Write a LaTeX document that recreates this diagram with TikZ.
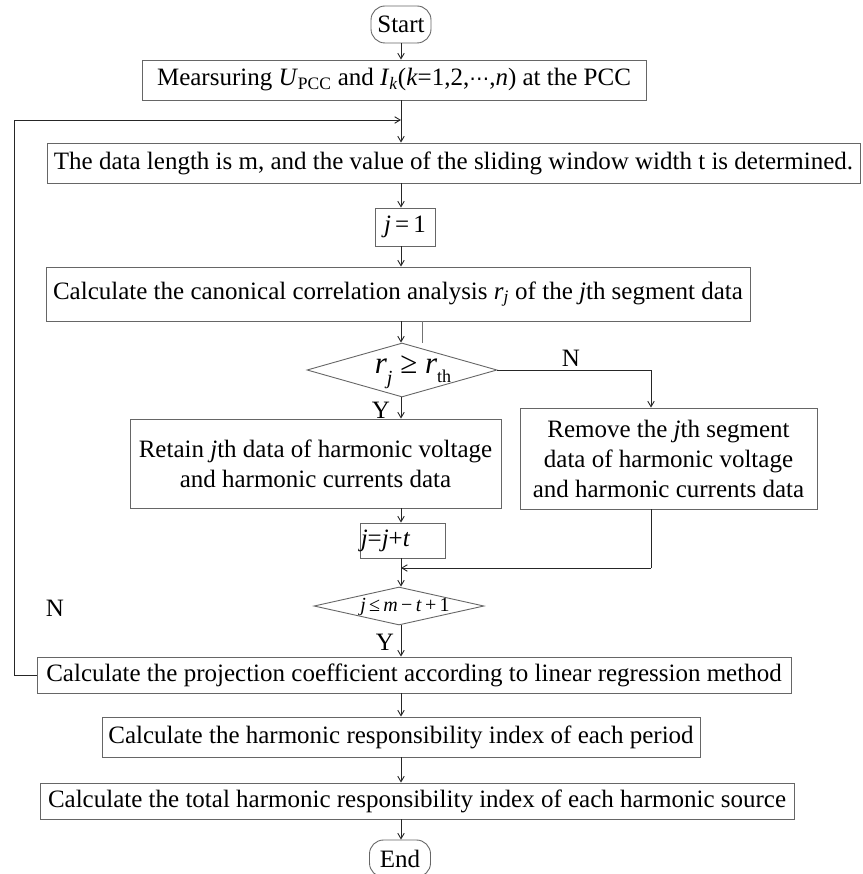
\documentclass[tikz,border=0pt]{standalone}
\usepackage{fontspec}
\setmainfont{Liberation Serif}
\newfontfamily\symfont{DejaVu Sans}
\usetikzlibrary{shapes.geometric,arrows.meta}
\begin{document}
\begin{tikzpicture}[x=1pt,y=-1pt,
  bx/.style={draw=black!60, line width=0.9pt, inner sep=0pt, align=center, font=\fontsize{25}{30}\selectfont},
  term/.style={bx, rounded corners=14pt},
  dia/.style={draw=black!60, line width=0.9pt, diamond, inner sep=0pt},
  arr/.style={draw=black!85, line width=0.9pt, -{Straight Barb[length=5.5pt,width=6.5pt]}},
  ln/.style={draw=black!85, line width=0.9pt},
  lbl/.style={font=\fontsize{25}{30}\selectfont, inner sep=0pt}]
\useasboundingbox (0,0) rectangle (862,874);
\coordinate (ax) at (401,0);
\coordinate (rx) at (651,0);
\coordinate (sx) at (422,0);
\coordinate (fbx) at (14,0);
\coordinate (fb) at (401,120);
\coordinate (mg) at (401,568);

\node[term, minimum width=60, minimum height=37] (start) at (401,24.5) {Start};
\node[bx, minimum width=504, minimum height=40] (b2) at (394,80) {Mearsuring \textit{U}\textsubscript{PCC} and \textit{I}\textsubscript{\textit{k}}(\textit{k}=1,2,{\symfont\fontsize{20}{24}\selectfont ⋯},\textit{n}) at the PCC};
\node[bx, minimum width=813, minimum height=40] (b3) at (453.5,163) {The data length is m, and the value of the sliding window width t is determined.};
\node[bx, minimum width=60, minimum height=38] (j1) at (405,227) {\textit{j}\,=\,1};
\node[bx, minimum width=704, minimum height=54] (b5) at (398,294) {Calculate the canonical correlation analysis \textit{r}\textsubscript{\textit{j}} of the \textit{j}th segment data};
\node[dia, minimum width=190, minimum height=54] (d1) at (402,370) {};
\node[inner sep=0pt, font=\fontsize{31}{36}\selectfont] (t1) at (413,372) {\textit{r}\raisebox{-0.35em}{\fontsize{20}{22}\selectfont\textit{j}} ≥ \textit{r}\raisebox{-0.3em}{\fontsize{18}{20}\selectfont th}};
\node[lbl] (n1) at (571,358) {N};
\node[lbl] (y1) at (381,410) {Y};
\node[bx, minimum width=371, minimum height=89] (retain) at (315.5,463.5) {Retain \textit{j}th data of harmonic voltage\\and harmonic currents data};
\node[bx, minimum width=297, minimum height=101] (remove) at (668.5,458.5) {Remove the \textit{j}th segment\\data of harmonic voltage\\and harmonic currents data};
\node[bx, minimum width=85, minimum height=35] (jjt) at (402.5,540.5) {};
\node[lbl, anchor=west] (tj) at ([xshift=1pt]jjt.west) {\textit{j}=\textit{j}+\textit{t}};
\node[dia, minimum width=170, minimum height=38] (d2) at (399,606) {};
\node[inner sep=0pt, font=\fontsize{20}{24}\selectfont] (t2) at (405,607) {\textit{j}\,≤\,\textit{m}\,−\,\textit{t}\,+\,1};
\node[lbl] (n2) at (55,608) {N};
\node[lbl] (y2) at (385,642) {Y};
\node[bx, minimum width=754, minimum height=36] (proj) at (414,675) {Calculate the projection coefficient according to linear regression method};
\node[bx, minimum width=598, minimum height=40] (period) at (401,737) {Calculate the harmonic responsibility index of each period};
\node[bx, minimum width=754, minimum height=36] (total) at (417,801) {Calculate the total harmonic responsibility index of each harmonic source};
\node[term, minimum width=61, minimum height=37] (end) at (400,858.5) {End};

\draw[arr] (start.south -| ax) -- (b2.north -| ax);
\draw[arr] (b2.south -| ax) -- (b3.north -| ax);
\draw[arr] (proj.west) -| (fbx |- fb) -- (fb);
\draw[arr] (b3.south -| ax) -- (j1.north -| ax);
\draw[arr] (j1.south -| ax) -- (b5.north -| ax);
\draw[arr] (b5.south -| ax) -- (d1.north -| ax);
\draw[draw=black!55, line width=0.6pt] (b5.south -| sx) -- (sx |- d1.north);
\draw[arr] (d1.south -| ax) -- (retain.north -| ax);
\draw[arr] (d1.east) -| (rx |- remove.north);
\draw[arr] (retain.south -| ax) -- (jjt.north -| ax);
\draw[ln] (remove.south -| rx) -- (rx |- mg);
\draw[arr] (rx |- mg) -- (mg);
\draw[arr] (jjt.south -| ax) -- (d2.north -| ax);
\draw[arr] (d2.south -| ax) -- (proj.north -| ax);
\draw[arr] (proj.south -| ax) -- (period.north -| ax);
\draw[arr] (period.south -| ax) -- (total.north -| ax);
\draw[arr] (total.south -| ax) -- (end.north -| ax);
\end{tikzpicture}
\end{document}
